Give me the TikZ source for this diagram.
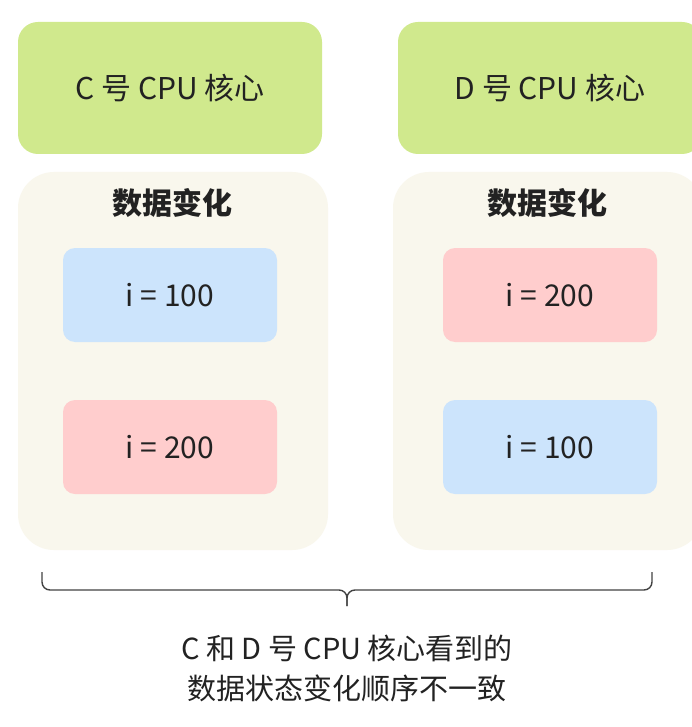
\documentclass[tikz,border=0pt]{standalone}
\usepackage{fontspec}
\setmainfont{Noto Sans CJK SC}
\definecolor{coregreen}{RGB}{208,233,141}
\definecolor{panelbeige}{RGB}{249,247,237}
\definecolor{valblue}{RGB}{204,228,252}
\definecolor{valred}{RGB}{255,205,205}
\definecolor{ink}{RGB}{34,34,34}
\tikzset{
  core/.style={fill=coregreen, rounded corners=20pt, inner sep=0pt,
    minimum width=304pt, minimum height=132pt, font=\fontsize{30}{34}\selectfont},
  panel/.style={fill=panelbeige, rounded corners=36pt, inner sep=0pt,
    minimum width=310pt, minimum height=378pt},
  paneltitle/.style={font=\fontsize{30}{34}\selectfont\bfseries},
  val/.style={rounded corners=12pt, inner sep=0pt,
    minimum width=214pt, minimum height=94pt, font=\fontsize{30}{34}\selectfont},
  oldval/.style={val, fill=valblue},
  newval/.style={val, fill=valred},
}
\begin{document}
\begin{tikzpicture}[x=1pt, y=-1pt, text=ink]
  \useasboundingbox[fill=white] (0,0) rectangle (691,727);
  % CPU cores
  \node[core] (coreC) at (170,88) {C 号 CPU 核心};
  \node[core] (coreD) at (550,88) {D 号 CPU 核心};
  % data panels
  \node[panel] (panelC) at (173,361) {};
  \node[panel] (panelD) at (548,361) {};
  \node[paneltitle] (titleC) at (172,203) {数据变化};
  \node[paneltitle] (titleD) at (547,203) {数据变化};
  \node[oldval] (c1) at (170,295) {i = 100};
  \node[newval] (c2) at (170,447) {i = 200};
  \node[newval] (d1) at (550,295) {i = 200};
  \node[oldval] (d2) at (550,447) {i = 100};
  % brace
  \coordinate (braceL) at (42,572);
  \coordinate (braceR) at (652,572);
  \coordinate (braceM) at (347,590);
  \coordinate (braceTip) at (347,606);
  \begin{scope}[draw=ink!85, line width=1.4pt, rounded corners=8pt]
    \draw (braceL) |- (braceM) -- (braceTip);
    \draw (braceR) |- (braceM) -- (braceTip);
  \end{scope}
  \node[align=center, font=\fontsize{29}{40}\selectfont] (note) at (347,668)
    {C 和 D 号 CPU 核心看到的\\数据状态变化顺序不一致};
\end{tikzpicture}
\end{document}
